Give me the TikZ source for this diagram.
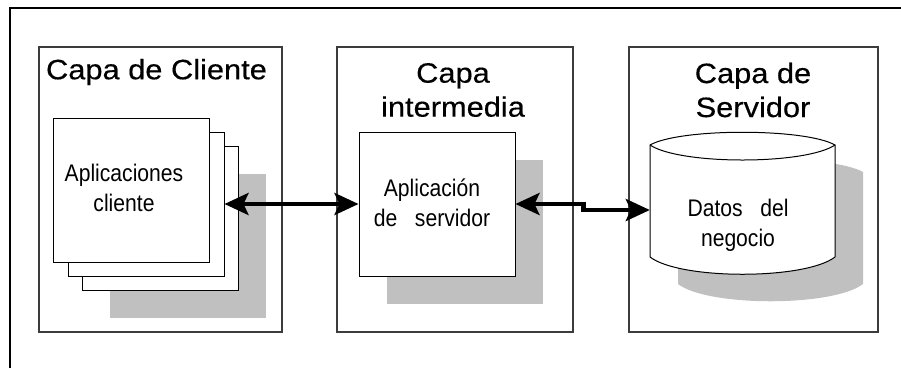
\documentclass[tikz,border=0pt]{standalone}
\usepackage{fontspec}
\setmainfont{Liberation Sans}
\newfontfamily\titlefont[FakeStretch=1.1,FakeBold=0.4]{Liberation Sans}
\newfontfamily\innerfont[FakeStretch=0.88]{Liberation Sans}
\usetikzlibrary{arrows.meta}
\definecolor{shadowgray}{RGB}{192,192,192}
\definecolor{layerline}{RGB}{60,60,60}
\tikzset{
  layer/.style={draw=layerline, line width=1.5pt, minimum width=#1, minimum height=285pt, inner sep=0pt},
  appbox/.style={draw=black, line width=1pt, fill=white, minimum width=156pt, minimum height=144pt, inner sep=0pt},
  shadowbox/.style={fill=shadowgray, minimum width=156pt, minimum height=144pt, inner sep=0pt},
  titletext/.style={font=\titlefont\fontsize{28}{34}\selectfont, align=center, inner sep=0pt},
  innertext/.style={font=\innerfont\fontsize{24}{30}\selectfont, align=center, inner sep=0pt},
  link/.style={line width=4.2pt, {Stealth[length=24pt,width=22pt,inset=5pt]}-{Stealth[length=24pt,width=22pt,inset=5pt]}}
}
\begin{document}
\begin{tikzpicture}[x=1pt,y=-1pt]
\useasboundingbox (0,0) rectangle (901,368);
% outer frame
\draw[line width=2pt] (10,368) -- (10,8) -- (901,8);
% layers
\node[layer=243pt] (cl) at (160.5,189.5) {};
\node[layer=236pt] (ml) at (455,189.5) {};
\node[layer=249pt] (sl) at (753.5,189.5) {};
\node[titletext] (clt) at (156.5,72) {Capa de Cliente};
\node[titletext] (mlt) at (453,90) {Capa\\intermedia};
\node[titletext] (slt) at (753,90) {Capa de\\Servidor};
% client stack
\node[shadowbox] (cs) at (188,246) {};
\node[appbox] (c3) at (160,218) {};
\node[appbox] (c2) at (146,204) {};
\node[appbox] (c1) at (131.5,190) {};
\node[innertext] (ct) at (124,188) {Aplicaciones\\cliente};
% middle app
\node[shadowbox] (ms) at (465,232) {};
\node[appbox] (m) at (437,204) {};
\node[innertext] (mt) at (432,203) {Aplicación\\de\ \ \ servidor};
% database cylinder
\fill[shadowgray] (678,172) .. controls (708,155) and (833,155) .. (863,172) -- (863,284) .. controls (833,307) and (708,307) .. (678,284) -- cycle;
\filldraw[fill=white, draw=black, line width=1pt] (650,145) .. controls (680,128) and (805,128) .. (835,145) -- (835,257) .. controls (805,280) and (680,280) .. (650,257) -- cycle;
\draw[line width=1pt] (650,145) .. controls (680,165) and (805,165) .. (835,145);
\node[minimum width=185pt, minimum height=100pt, inner sep=0pt] (db) at (742.5,210) {};
\node[innertext] (dt) at (738,225) {Datos\ \ \ del\\negocio};
% connectors
\draw[link] (c2.east) -- (m.west);
\draw[link] (m.east) -- ++(68,0) -- ++(0,6) -- (db.west);
\end{tikzpicture}
\end{document}
